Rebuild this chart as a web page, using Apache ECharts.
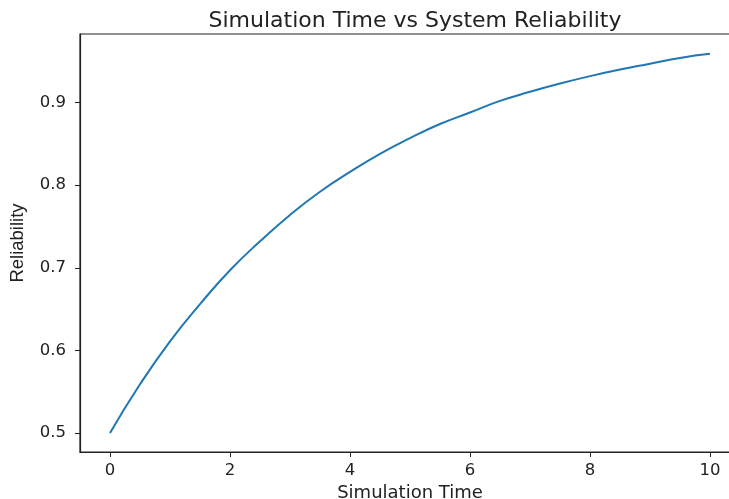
<!DOCTYPE html>
<html>
<head>
<meta charset="utf-8">
<script src="https://cdn.jsdelivr.net/npm/echarts@6/dist/echarts.min.js"></script>
<style>html,body{margin:0;padding:0;background:#fff}#c{width:729px;height:499px}</style>
</head>
<body>
<div id="c"></div>
<script>
const times = [0,0.5,1,1.5,2,2.5,3,3.5,4,4.5,5,5.5,6,6.5,7,7.5,8,8.5,9,9.5,10];
const reliability = [0.500,0.559,0.611,0.656,0.697,0.732,0.764,0.792,0.816,0.838,0.857,0.874,0.888,0.902,0.913,0.923,0.932,0.940,0.947,0.954,0.959];
const xTicks = [0,2,4,6,8,10];
const yTicks = [0.5,0.6,0.7,0.8,0.9];

const chart = echarts.init(document.getElementById('c'), null, {renderer:'canvas'});
const font = 'DejaVu Sans';
chart.setOption({
  animation:false,
  backgroundColor:'#fff',
  title:{text:'Simulation Time vs System Reliability', left:410, textAlign:'center', top:5,
    textStyle:{fontFamily:font, fontSize:22, fontWeight:'normal', color:'#222'}},
  grid:{left:80, top:34, height:418, width:660, show:true, borderColor:'#222', borderWidth:1.2,
    containLabel:false, outerBoundsMode:'none'},
  xAxis:{type:'value', min:-0.5, max:10.5,
    name:'Simulation Time', nameLocation:'middle', nameGap:28,
    nameTextStyle:{fontFamily:font, fontSize:18, color:'#222'},
    axisLine:{show:true, onZero:false, lineStyle:{color:'#222', width:1.2}},
    axisTick:{show:true, length:5, customValues:xTicks, lineStyle:{color:'#222'}},
    axisLabel:{customValues:xTicks, fontFamily:font, fontSize:16.5, color:'#222', margin:10},
    splitLine:{show:false}},
  yAxis:{type:'value', min:0.477, max:0.983,
    name:'Reliability', nameLocation:'middle', nameGap:53,
    nameTextStyle:{fontFamily:"'Liberation Sans', 'DejaVu Sans', sans-serif", fontSize:18.5, color:'#222'},
    axisLine:{show:true, onZero:false, lineStyle:{color:'#222', width:1.2}},
    axisTick:{show:true, length:5, customValues:yTicks, lineStyle:{color:'#222'}},
    axisLabel:{customValues:yTicks, fontFamily:font, fontSize:16.5, color:'#222', margin:14,
      formatter:v=>v.toFixed(1)},
    splitLine:{show:false}},
  series:[{type:'line', data:times.map((t,i)=>[t, reliability[i]]), smooth:true, showSymbol:false,
    lineStyle:{color:'#1f77b4', width:2}}]
});
</script>
</body>
</html>
